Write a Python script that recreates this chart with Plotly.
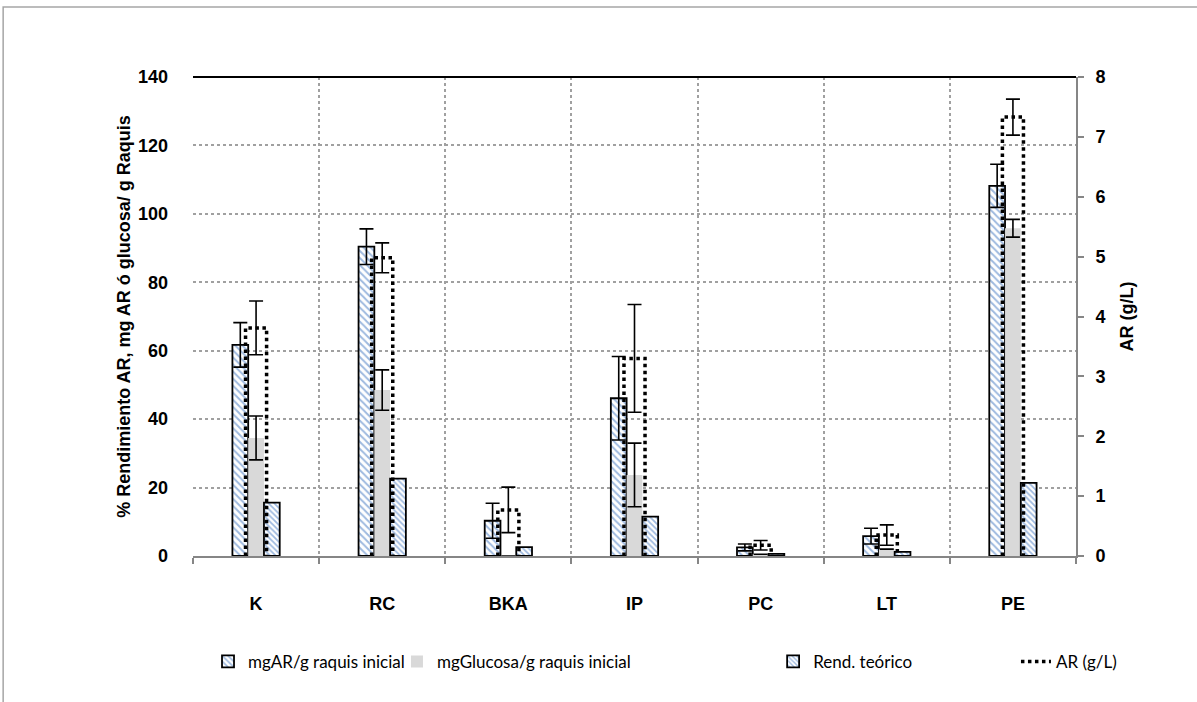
import plotly.graph_objects as go

categories = ["K", "RC", "BKA", "IP", "PC", "LT", "PE"]
mgAR = [61.7, 90.4, 10.3, 46.1, 2.5, 5.8, 108.2]
mgAR_err = [6.5, 5.2, 5.1, 12.2, 1.0, 2.3, 6.3]
glucosa = [34.5, 48.5, 0.0, 23.7, 0.5, 2.0, 95.8]
glucosa_err = [6.4, 5.9, 0.0, 9.3, 0.0, 0.0, 2.6]
rend = [15.6, 22.6, 2.6, 11.5, 0.6, 1.2, 21.4]
AR = [3.81, 4.98, 0.77, 3.30, 0.18, 0.35, 7.33]
AR_err = [0.45, 0.25, 0.38, 0.90, 0.08, 0.17, 0.30]

xs = list(range(len(categories)))
BW = 0.125
ARW = 0.167

fig = go.Figure()
errstyle = dict(type="data", color="black", thickness=1.6, width=7)

fig.add_trace(go.Bar(
    x=xs, y=mgAR, width=BW, offset=-1.5 * BW, name="mgAR/g raquis inicial",
    marker=dict(color="white", line=dict(color="black", width=1.8),
                pattern=dict(shape="\\", fgcolor="#3d74c0", bgcolor="white", size=5, solidity=0.4)),
    error_y=dict(array=mgAR_err, **errstyle), legend="legend"))
fig.add_trace(go.Bar(
    x=xs, y=glucosa, width=BW, offset=-0.5 * BW, name="mgGlucosa/g raquis inicial",
    marker=dict(color="#d9d9d9", line=dict(width=0)),
    error_y=dict(array=glucosa_err, **errstyle), legend="legend2"))
fig.add_trace(go.Bar(
    x=xs, y=rend, width=BW, offset=0.5 * BW, name="Rend. teórico",
    marker=dict(color="white", line=dict(color="black", width=1.8),
                pattern=dict(shape="\\", fgcolor="#3d74c0", bgcolor="white", size=4, solidity=0.45)),
    legend="legend3"))

# AR (g/L) bars as dotted outlines on secondary axis
px, py = [], []
for x, v in zip(xs, AR):
    px += [x - ARW / 2, x - ARW / 2, x + ARW / 2, x + ARW / 2, None]
    py += [0, v, v, 0, None]
fig.add_trace(go.Scatter(
    x=px, y=py, mode="lines", yaxis="y2", name="AR (g/L)",
    line=dict(color="black", width=3.5, dash="dot"), legend="legend4"))
fig.add_trace(go.Scatter(
    x=xs, y=AR, mode="markers", yaxis="y2", showlegend=False,
    marker=dict(size=1, color="rgba(0,0,0,0)"),
    error_y=dict(array=AR_err, **errstyle)))

tickfont = dict(family="Liberation Sans", size=18, color="black", weight="bold")
titlefont = dict(family="Liberation Sans", size=18, color="black", weight="bold")
fig.update_layout(
    width=1197, height=702,
    margin=dict(l=193, r=121, t=77, b=146),
    paper_bgcolor="white", plot_bgcolor="white",
    barmode="overlay",
    xaxis=dict(range=[-0.5, 6.5], tickvals=xs, ticktext=categories, tickfont=tickfont,
               showgrid=False, zeroline=False, showline=True, linecolor="#868686", linewidth=2,
               ticks="", ticklabelstandoff=30,
               minor=dict(tickvals=[i + 0.5 for i in range(-1, 7)], showgrid=True, griddash="dot",
                          gridcolor="#a0a0a0", gridwidth=1.5, ticks="outside", ticklen=6,
                          tickcolor="#868686", tickwidth=1.5)),
    yaxis=dict(range=[0, 140], dtick=20, tickfont=tickfont, showgrid=True, griddash="dot",
               gridcolor="#a0a0a0", gridwidth=1.5, zeroline=False, showline=False,
               ticks="", ticklabelstandoff=24,
               title=dict(text="% Rendimiento AR, mg AR ó glucosa/ g Raquis",
                          font=titlefont, standoff=2)),
    yaxis2=dict(range=[0, 8], dtick=1, overlaying="y", side="right", tickfont=tickfont,
                showgrid=False, zeroline=False, showline=True, linecolor="#868686", linewidth=2,
                ticks="outside", ticklen=6, tickcolor="#868686", tickwidth=1.5,
                ticklabelstandoff=8,
                title=dict(text="AR (g/L)", font=titlefont, standoff=16)),
    font=dict(family="Lato", size=17, color="black"),
)

legfont = dict(family="Lato", size=17, color="black")
for key, xpos in [("legend", 0.017), ("legend2", 0.231), ("legend3", 0.657), ("legend4", 0.932)]:
    fig.layout[key] = dict(x=xpos, y=-0.221, xanchor="left", yanchor="middle",
                           orientation="h", font=legfont, bgcolor="rgba(0,0,0,0)",
                           itemwidth=30, tracegroupgap=0)

# chart frame and top border line
fig.add_shape(type="rect", xref="paper", yref="paper", x0=-0.215, x1=1.3, y0=-0.5, y1=1.146,
              line=dict(color="#a6a6a6", width=1.5), fillcolor="rgba(0,0,0,0)", layer="below")
fig.add_shape(type="line", xref="paper", yref="paper", x0=0, x1=1, y0=1, y1=1,
              line=dict(color="black", width=2))

fig.write_html("out.html")
